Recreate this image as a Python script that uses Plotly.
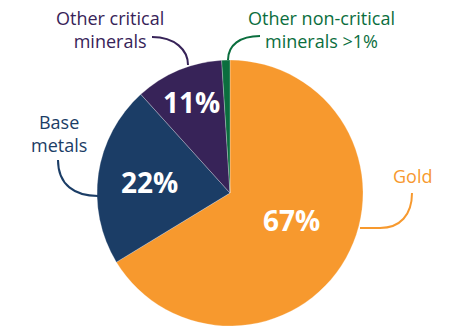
import math
import plotly.graph_objects as go

categories = ["Gold", "Base metals", "Other critical minerals", "Other non-critical minerals >1%"]
values = [66.3, 22.0, 10.7, 1.0]
pct_labels = ["67%", "22%", "11%", ""]
colors = ["#F7992E", "#1B3D66", "#372358", "#0B6E3E"]

W, H = 454, 328
FONT = "Open Sans"
# pie geometry (pixels)
CX, CY, R = 230, 193, 133
# where each percentage sits inside its slice
label_radius = [0.50, 0.61, 0.75, 0.0]
label_angle_shift = [-6.6, 0.0, 0.0, 0.0]

def px(x, y):
    return x / W, 1 - y / H

def path(points_cmds):
    out = []
    for cmd, pts in points_cmds:
        coords = []
        for (x, y) in pts:
            a, b = px(x, y)
            coords.append(f"{a:.5f},{b:.5f}")
        out.append(cmd + " ".join(coords))
    return " ".join(out)

fig = go.Figure(go.Pie(
    labels=categories,
    values=values,
    textinfo="none",
    marker=dict(colors=colors, line=dict(color="rgba(255,255,255,0.5)", width=0.5)),
    sort=False,
    direction="clockwise",
    rotation=0,
    hole=0,
    showlegend=False,
    domain=dict(x=[(CX - R) / W, (CX + R) / W], y=[(H - CY - R) / H, (H - CY + R) / H]),
))

def ann(txt, x, y, color, size=18, bold=False):
    a, b = px(x, y)
    return dict(text=txt, x=a, y=b, xref="paper", yref="paper", showarrow=False,
                font=dict(family=FONT, size=size, color=color, weight="bold" if bold else "normal"),
                align="center", xanchor="center", yanchor="middle")

annotations = [
    ann("Other critical<br>minerals", 110, 30, colors[2]),
    ann("Other non-critical<br>minerals >1%", 321, 30, colors[3]),
    ann("Base<br>metals", 59, 133, colors[1]),
    ann("Gold", 412, 176, colors[0]),
]

# percentage labels placed at the slice mid-angles derived from the values
total = sum(values)
cum = 0.0
for v, lab, rf, sh in zip(values, pct_labels, label_radius, label_angle_shift):
    mid = (cum + v / 2) / total * 360 + sh
    cum += v
    if not lab:
        continue
    th = math.radians(mid)
    x = CX + rf * R * math.sin(th)
    y = CY - rf * R * math.cos(th)
    annotations.append(ann(lab, x, y + 1, "white", size=28, bold=True))

shapes = [
    dict(type="path", xref="paper", yref="paper",
         path=path([("M", [(152, 37)]), ("C", [(175, 37), (188, 50), (188, 65)])]),
         line=dict(color=colors[2], width=2)),
    dict(type="path", xref="paper", yref="paper",
         path=path([("M", [(260, 36)]), ("C", [(240, 36), (228, 45), (228, 60)])]),
         line=dict(color=colors[3], width=2)),
    dict(type="path", xref="paper", yref="paper",
         path=path([("M", [(58, 160)]), ("C", [(58, 185), (75, 196), (98, 196)]), ("L", [(133, 196)])]),
         line=dict(color=colors[1], width=2)),
    dict(type="path", xref="paper", yref="paper",
         path=path([("M", [(412, 193)]), ("C", [(412, 215), (400, 228), (380, 228)]), ("L", [(360, 228)])]),
         line=dict(color=colors[0], width=2)),
]

fig.update_layout(
    width=W, height=H,
    margin=dict(l=0, r=0, t=0, b=0),
    paper_bgcolor="white", plot_bgcolor="white",
    annotations=annotations, shapes=shapes,
)

fig.write_html("out.html")
